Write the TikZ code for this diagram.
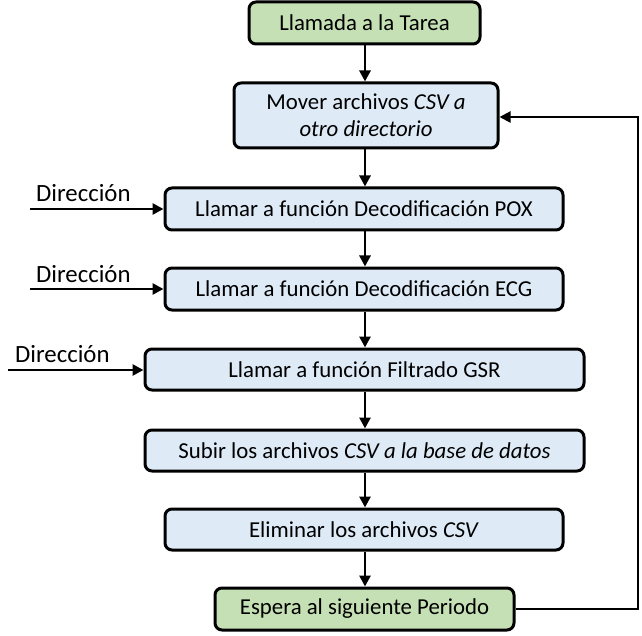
\documentclass[tikz,border=0pt]{standalone}
\usepackage{fontspec}
\setmainfont{Carlito}
\usetikzlibrary{arrows.meta}
\definecolor{boxgreen}{HTML}{C5E0B4}
\definecolor{boxblue}{HTML}{DEEBF7}
\tikzset{
  stepbox/.style={draw=black, line width=3pt, rounded corners=7pt, fill=boxblue,
    inner sep=0pt, align=center, font=\fontsize{22.8}{27}\selectfont},
  termbox/.style={stepbox, fill=boxgreen},
  flow/.style={line width=2.8pt, -{Triangle[length=11pt,width=11pt]}},
  lbl/.style={font=\fontsize{24.8}{29}\selectfont, inner sep=0pt, anchor=base west}
}
\begin{document}
\begin{tikzpicture}[x=1pt,y=1pt]
\useasboundingbox (0,0) rectangle (642,-636);
\node[termbox, minimum width=231pt, minimum height=42pt] (b1) at (364.5,-23) {Llamada a la Tarea};
\node[stepbox, minimum width=264pt, minimum height=65pt] (b2) at (366,-115.5) {Mover archivos \textit{CSV a}\\\textit{otro directorio}};
\node[stepbox, minimum width=398pt, minimum height=42pt] (b3) at (364,-209) {Llamar a función Decodificación POX};
\node[stepbox, minimum width=398pt, minimum height=42pt] (b4) at (364,-289) {Llamar a función Decodificación ECG};
\node[stepbox, minimum width=439pt, minimum height=41pt] (b5) at (364.5,-369.5) {Llamar a función Filtrado GSR};
\node[stepbox, minimum width=439pt, minimum height=41pt] (b6) at (364.5,-450.5) {Subir los archivos \textit{CSV a la base de datos}};
\node[stepbox, minimum width=398pt, minimum height=41pt] (b7) at (364,-529.5) {Eliminar los archivos \textit{CSV}};
\node[termbox, minimum width=299pt, minimum height=42pt] (b8) at (364.5,-609) {Espera al siguiente Periodo};

\draw[flow] (b1.south -| 365,0) -- (b2.north -| 365,0);
\draw[flow] (b2.south -| 365,0) -- (b3.north -| 365,0);
\draw[flow] (b3.south -| 365,0) -- (b4.north -| 365,0);
\draw[flow] (b4.south -| 365,0) -- (b5.north -| 365,0);
\draw[flow] (b5.south -| 365,0) -- (b6.north -| 365,0);
\draw[flow] (b6.south -| 365,0) -- (b7.north -| 365,0);
\draw[flow] (b7.south -| 365,0) -- (b8.north -| 365,0);

\coordinate (fb) at (638,-117);
\draw[flow, line width=2.2pt] (b8.east) -- (b8.east -| fb) -- (fb) -- (b2.east |- fb);

\coordinate (d1) at (30,-209);
\coordinate (d2) at (30,-289);
\coordinate (d3) at (8,-370);
\draw[flow] (d1) -- (b3.west);
\draw[flow] (d2) -- (b4.west);
\draw[flow] (d3) -- (b5.west |- d3);
\node[lbl] (l1) at (36,-202) {Dirección};
\node[lbl] (l2) at (36,-282) {Dirección};
\node[lbl] (l3) at (15,-362) {Dirección};
\end{tikzpicture}
\end{document}
